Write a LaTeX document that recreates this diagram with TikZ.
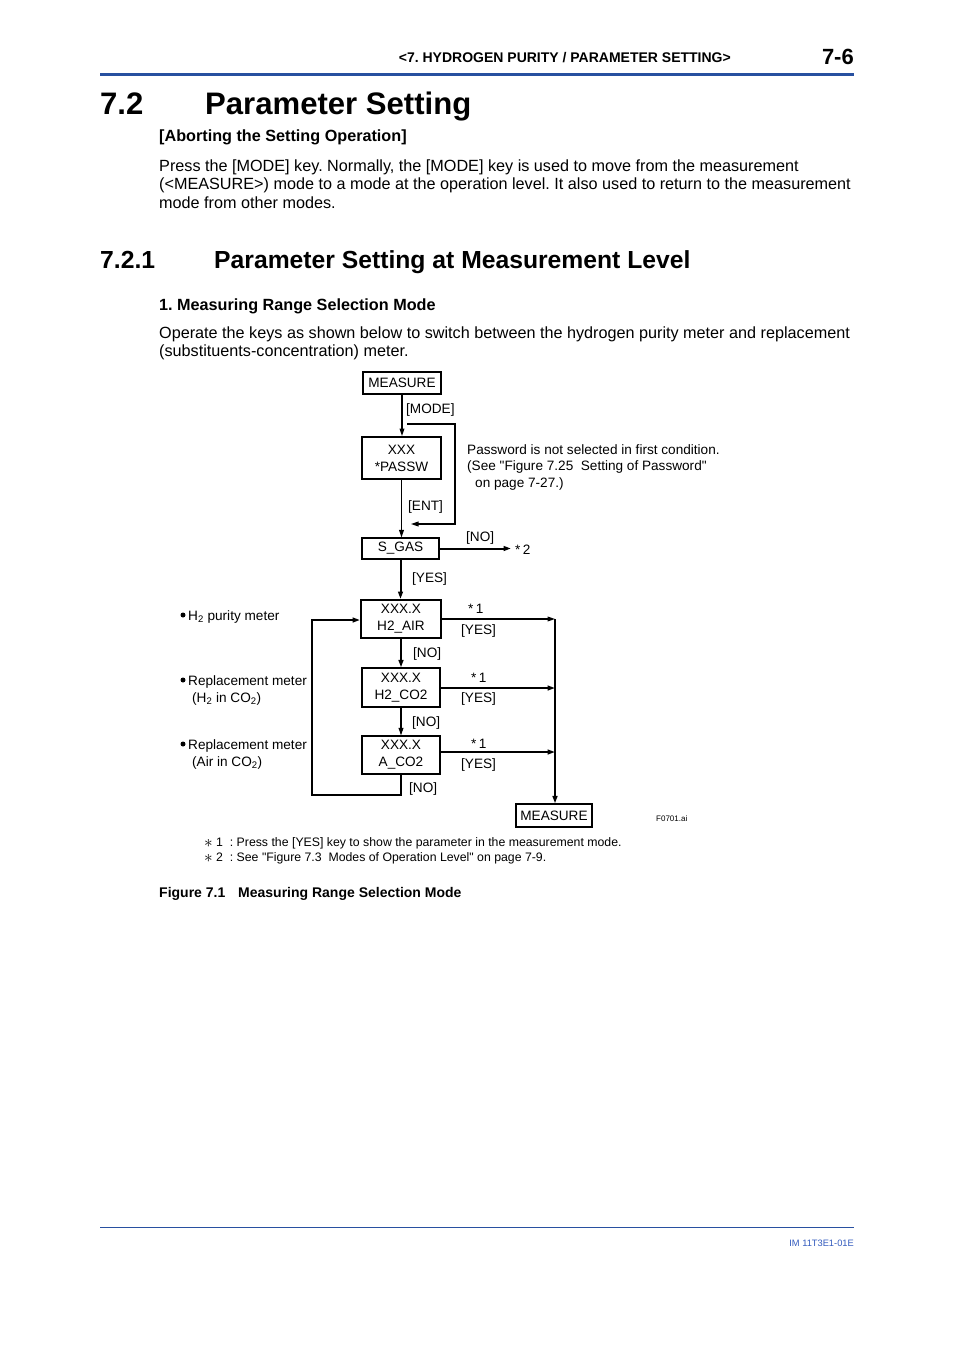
\documentclass[tikz,border=0pt]{standalone}
\usepackage{fontspec}
\setmainfont{Liberation Sans}
\usetikzlibrary{arrows.meta}
\definecolor{hblue}{RGB}{40,80,160}
\definecolor{fblue}{RGB}{50,90,190}
\frenchspacing
\newcommand{\bigstar}{{\fontsize{17}{17}\selectfont$\ast$}}
\tikzset{
  txt/.style={anchor=base west, inner sep=0pt, font=\fontsize{16.2}{18.5}\selectfont},
  btxt/.style={anchor=base west, inner sep=0pt, font=\fontsize{16.2}{18.5}\selectfont\bfseries},
  dtxt/.style={anchor=base west, inner sep=0pt, font=\fontsize{13.6}{17}\selectfont},
  ftxt/.style={anchor=base west, inner sep=0pt, font=\fontsize{12.3}{14}\selectfont},
  box/.style={draw, line width=1.2pt, inner sep=0pt, align=center, font=\fontsize{13.6}{17}\selectfont},
  boxthick/.style={box, line width=2pt},
  dot/.style={circle, fill, inner sep=0pt, minimum size=5pt},
  arr/.style={line width=1.1pt, -{Triangle[length=7.5pt,width=4.8pt]}},
  arrthick/.style={line width=2pt, -{Triangle[length=7.5pt,width=4.8pt]}},
}
\begin{document}
\begin{tikzpicture}[x=1pt,y=-1pt]
\path[use as bounding box, fill=white] (0,0) rectangle (954,1350);

% header
\node[anchor=base east, inner sep=0pt, font=\fontsize{14}{16}\selectfont\bfseries] (hdr) at (731,62) {<7. HYDROGEN PURITY / PARAMETER SETTING>};
\node[anchor=base east, inner sep=0pt, font=\fontsize{22}{24}\selectfont\bfseries] (pg) at (854,64) {7-6};
\draw[hblue, line width=3pt] (100,74) -- (854,74);

% titles
\node[anchor=base west, inner sep=0pt, font=\fontsize{31.1}{34}\selectfont\bfseries] (s72) at (100,114) {7.2};
\node[anchor=base west, inner sep=0pt, font=\fontsize{31.1}{34}\selectfont\bfseries] (s72t) at (205,114) {Parameter Setting};
\node[btxt] (abort) at (159,141) {[Aborting the Setting Operation]};
\node[txt] (p1) at (159,171) {Press the [MODE] key. Normally, the [MODE] key is used to move from the measurement};
\node[txt] (p2) at (159,189.5) {(<MEASURE>) mode to a mode at the operation level. It also used to return to the measurement};
\node[txt] (p3) at (159,208) {mode from other modes.};

\node[anchor=base west, inner sep=0pt, font=\fontsize{24.7}{27}\selectfont\bfseries] (s721) at (100,268) {7.2.1};
\node[anchor=base west, inner sep=0pt, font=\fontsize{24.7}{27}\selectfont\bfseries] (s721t) at (214,268) {Parameter Setting at Measurement Level};

\node[btxt] (m1) at (159,310) {1. Measuring Range Selection Mode};
\node[txt] (o1) at (159,338) {Operate the keys as shown below to switch between the hydrogen purity meter and replacement};
\node[txt] (o2) at (159,356.5) {(substituents-concentration) meter.};

% diagram boxes
\node[box, minimum width=78pt, minimum height=22pt] (meas) at (402,383) {MEASURE};
\node[boxthick, minimum width=79pt, minimum height=42pt] (pass) at (401.5,458) {XXX\\*PASSW};
\node[box, minimum width=77pt, minimum height=21pt] (sgas) at (400.5,548.5) {S\_GAS};
\node[boxthick, minimum width=80pt, minimum height=38pt] (h2air) at (401,619) {XXX.X\\H2\_AIR};
\node[box, minimum width=78pt, minimum height=39pt] (h2co2) at (401,687.5) {XXX.X\\H2\_CO2};
\node[box, minimum width=78pt, minimum height=38pt] (aco2) at (401,755) {XXX.X\\A\_CO2};
\node[box, minimum width=76pt, minimum height=23pt] (meas2) at (554,815.5) {MEASURE};

% coordinates
\coordinate (bp1) at (407,424);
\coordinate (bp2) at (455,424);
\coordinate (bp3) at (455,524);
\coordinate (bp4) at (411,524);
\coordinate (st2) at (511,548.5);
\coordinate (j1) at (555,619);
\coordinate (j2) at (555,688);
\coordinate (j3) at (555,752);
\coordinate (l1) at (401,795);
\coordinate (l2) at (312,795);
\coordinate (l3) at (312,620);

% connectors
\draw[arr] (meas.south) -- (meas.south |- pass.north);
\draw[arr] (bp1) -- (bp2) -- (bp3) -- (bp4);
\draw[arr] (pass.south) -- (pass.south |- sgas.north);
\draw[arrthick] (sgas.east) -- (st2);
\draw[arrthick] (sgas.south) -- (sgas.south |- h2air.north);
\draw[arr] (h2air.east) -- (j1);
\draw[arrthick] (j1) -- (j1 |- meas2.north);
\draw[arrthick] (h2air.south) -- (h2air.south |- h2co2.north);
\draw[arrthick] (h2co2.east |- j2) -- (j2);
\draw[arr] (h2co2.south) -- (h2co2.south |- aco2.north);
\draw[arrthick] (aco2.east |- j3) -- (j3);
\draw[arrthick] (aco2.south) -- (l1) -- (l2) -- (l3) -- (h2air.west |- l3);

% diagram labels
\node[dtxt] (lmode) at (406,413) {[MODE]};
\node[dtxt] (lent) at (408,510) {[ENT]};
\node[dtxt] (lno0) at (466,541) {[NO]};
\node[dtxt] (ls2) at (515,554) {*\,2};
\node[dtxt] (lyes0) at (412,582) {[YES]};
\node[dtxt] (ls1a) at (468,613) {*\,1};
\node[dtxt] (lyes1) at (461,634) {[YES]};
\node[dtxt] (lno1) at (413,657) {[NO]};
\node[dtxt] (ls1b) at (471,682) {*\,1};
\node[dtxt] (lyes2) at (461,702) {[YES]};
\node[dtxt] (lno2) at (412,726) {[NO]};
\node[dtxt] (ls1c) at (471,748) {*\,1};
\node[dtxt] (lyes3) at (461,768) {[YES]};
\node[dtxt] (lno3) at (409,792) {[NO]};

\node[dtxt] (pw1) at (467,454) {Password is not selected in first condition.};
\node[dtxt] (pw2) at (467,470) {(See \textquotedbl Figure 7.25\ \ Setting of Password\textquotedbl};
\node[dtxt] (pw3) at (475,487) {on page 7-27.)};

\node[dot] (d1) at (183,615) {};
\node[dtxt] (lb1) at (188,620) {H\textsubscript{2} purity meter};
\node[dot] (d2) at (183,680) {};
\node[dtxt] (lb2) at (188,685) {Replacement meter};
\node[dtxt] (lb2b) at (192,702) {(H\textsubscript{2} in CO\textsubscript{2})};
\node[dot] (d3) at (183,744) {};
\node[dtxt] (lb3) at (188,749) {Replacement meter};
\node[dtxt] (lb3b) at (192,766) {(Air in CO\textsubscript{2})};

\node[anchor=base west, inner sep=0pt, font=\fontsize{8}{9}\selectfont] (fid) at (656,821) {F0701.ai};

% footnotes
\node[ftxt] (fs1) at (204,847) {\bigstar};
\node[ftxt] (fn1) at (216,846) {1\ \ : Press the [YES] key to show the parameter in the measurement mode.};
\node[ftxt] (fs2) at (204,862) {\bigstar};
\node[ftxt] (fn2) at (216,861) {2\ \ : See \textquotedbl Figure 7.3\ \ Modes of Operation Level\textquotedbl\ on page 7-9.};

\node[anchor=base west, inner sep=0pt, font=\fontsize{14}{16}\selectfont\bfseries] (fig) at (159,897) {Figure 7.1};
\node[anchor=base west, inner sep=0pt, font=\fontsize{14}{16}\selectfont\bfseries] (figt) at (238,897) {Measuring Range Selection Mode};

% footer
\draw[hblue, line width=1pt] (100,1227) -- (854,1227);
\node[anchor=base east, inner sep=0pt, font=\fontsize{9.3}{10}\selectfont, text=fblue] (im) at (854,1246) {IM 11T3E1-01E};
\end{tikzpicture}
\end{document}
